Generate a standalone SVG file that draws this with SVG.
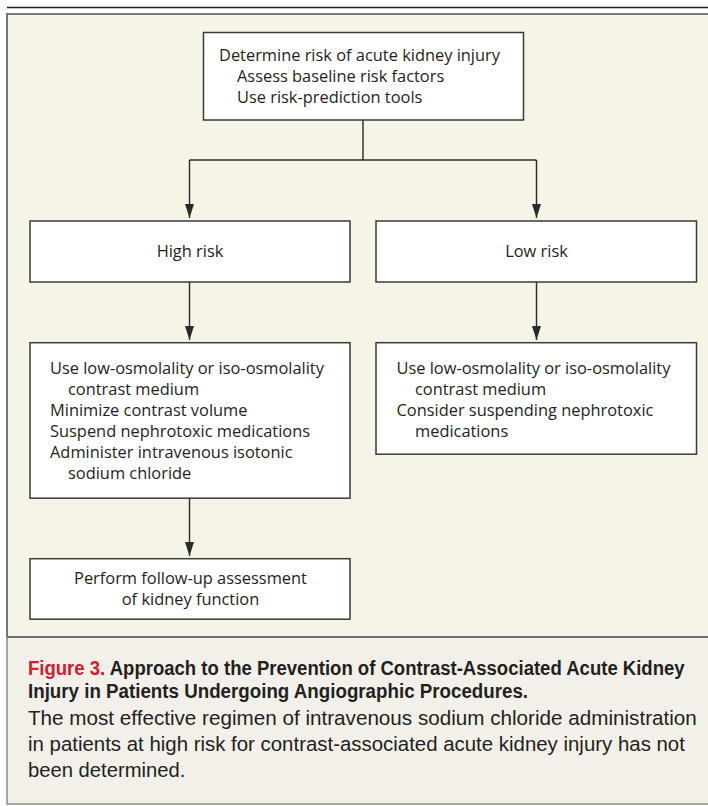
<svg xmlns="http://www.w3.org/2000/svg" width="708" height="806" viewBox="0 0 708 806">
<style>
.box{fill:#ffffff;stroke:#3a3a3a;stroke-width:1.5}
.t{font-family:"Open Sans","Liberation Sans",sans-serif;font-size:16.4px;fill:#231f20}
.c{text-anchor:middle}
.conn{fill:none;stroke:#2a2a2a;stroke-width:1.4}
.cap{font-family:"Liberation Sans",Arial,sans-serif;fill:#231f20}
.title{font-size:21px;font-weight:bold}
.body{font-size:19.5px}
</style>
<defs>
<marker id="arr" markerUnits="userSpaceOnUse" markerWidth="14" markerHeight="9" refX="14" refY="4.5" orient="auto">
<path d="M0,0 L14,4.5 L0,9 z" fill="#2a2a2a"/>
</marker>
</defs>
<line x1="7" y1="7.5" x2="708" y2="7.5" stroke="#222" stroke-width="1.6"/>
<rect x="7" y="14" width="712" height="623" fill="#f6f3e7" stroke="#777" stroke-width="2"/>
<rect x="7" y="637" width="712" height="167" fill="#f3f0ea" stroke="#8c8c8c" stroke-width="1.5"/>
<line x1="7" y1="637" x2="708" y2="637" stroke="#6f6f6f" stroke-width="2"/>

<g id="connectors">
<path class="conn" d="M363,120 V160 M189.5,160 H536.5"/>
<path class="conn" d="M189.5,160 V218" marker-end="url(#arr)"/>
<path class="conn" d="M536.5,160 V218" marker-end="url(#arr)"/>
<path class="conn" d="M189.5,282 V340" marker-end="url(#arr)"/>
<path class="conn" d="M536.5,282 V340" marker-end="url(#arr)"/>
<path class="conn" d="M189.5,498 V556" marker-end="url(#arr)"/>
</g>

<g id="determine">
<rect class="box" x="203.5" y="32.5" width="320" height="87.5"/>
<text class="t" x="219" y="61">Determine risk of acute kidney injury</text>
<text class="t" x="237" y="82">Assess baseline risk factors</text>
<text class="t" x="237" y="103">Use risk-prediction tools</text>
</g>

<g id="high-risk">
<rect class="box" x="30" y="221" width="320" height="61"/>
<text class="t c" x="190" y="257">High risk</text>
</g>

<g id="low-risk">
<rect class="box" x="376" y="221" width="320.5" height="61"/>
<text class="t c" x="536.5" y="257">Low risk</text>
</g>

<g id="high-actions">
<rect class="box" x="30" y="342.7" width="320" height="155.5"/>
<text class="t" x="50" y="374">Use low-osmolality or iso-osmolality</text>
<text class="t" x="68" y="395">contrast medium</text>
<text class="t" x="50" y="416">Minimize contrast volume</text>
<text class="t" x="50" y="437">Suspend nephrotoxic medications</text>
<text class="t" x="50" y="458">Administer intravenous isotonic</text>
<text class="t" x="68" y="479">sodium chloride</text>
</g>

<g id="low-actions">
<rect class="box" x="376" y="342.7" width="320.5" height="111.5"/>
<text class="t" x="396.5" y="373.5">Use low-osmolality or iso-osmolality</text>
<text class="t" x="415" y="394.5">contrast medium</text>
<text class="t" x="396.5" y="415.5">Consider suspending nephrotoxic</text>
<text class="t" x="415" y="436.5">medications</text>
</g>

<g id="follow-up">
<rect class="box" x="30" y="558.7" width="320" height="60.5"/>
<text class="t c" x="190.5" y="584">Perform follow-up assessment</text>
<text class="t c" x="190.5" y="605">of kidney function</text>
</g>

<g id="caption">
<text class="cap title" transform="translate(28,675) scale(0.76,1)" x="0" y="0" textLength="864" lengthAdjust="spacingAndGlyphs"><tspan fill="#d0202e">Figure 3.</tspan> Approach to the Prevention of Contrast-Associated Acute Kidney</text>
<text class="cap title" transform="translate(28,698) scale(0.76,1)" x="0" y="0" textLength="658" lengthAdjust="spacingAndGlyphs">Injury in Patients Undergoing Angiographic Procedures.</text>
<text class="cap body" transform="translate(28,725) scale(0.92,1)" x="0" y="0" textLength="727" lengthAdjust="spacingAndGlyphs">The most effective regimen of intravenous sodium chloride administration</text>
<text class="cap body" transform="translate(28,751) scale(0.92,1)" x="0" y="0" textLength="714" lengthAdjust="spacingAndGlyphs">in patients at high risk for contrast-associated acute kidney injury has not</text>
<text class="cap body" transform="translate(28,777) scale(0.92,1)" x="0" y="0" textLength="171" lengthAdjust="spacingAndGlyphs">been determined.</text>
</g>
</svg>
